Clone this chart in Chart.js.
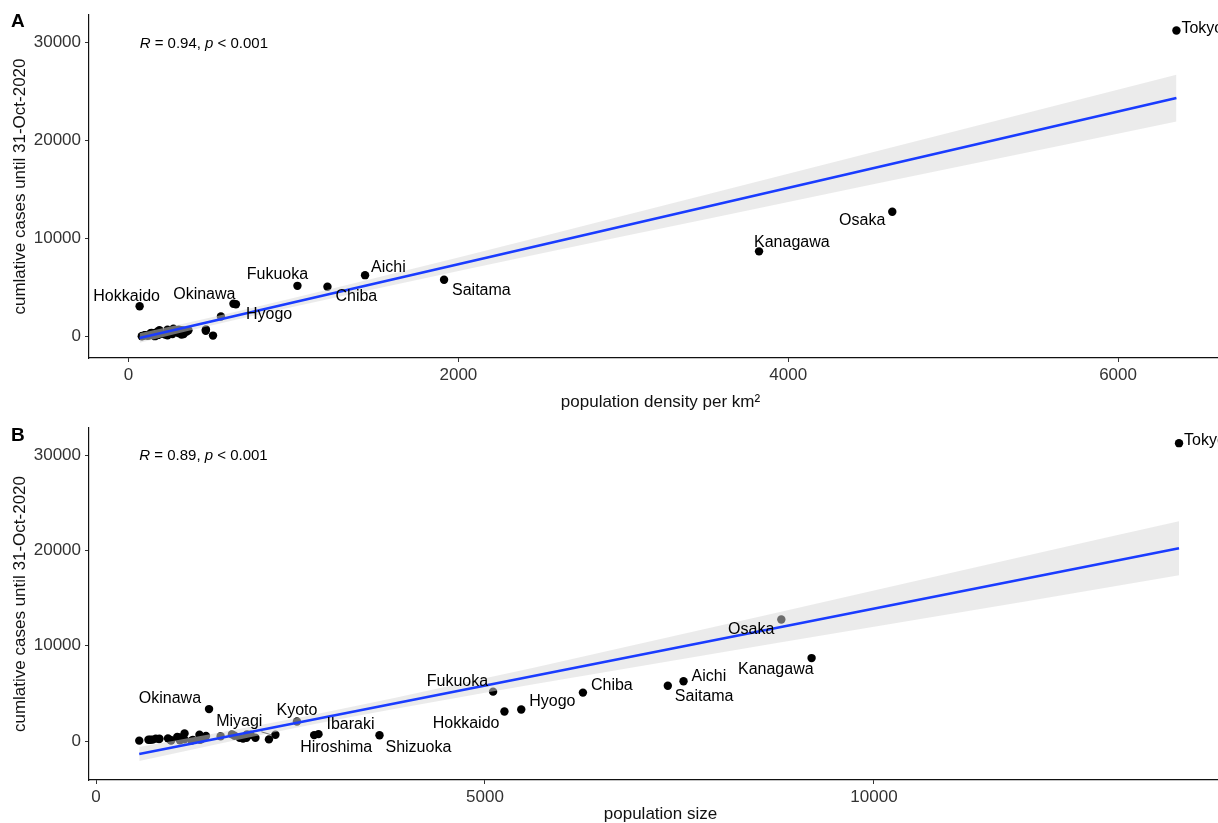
<!DOCTYPE html>
<html>
<head>
<meta charset="utf-8">
<script src="https://cdn.jsdelivr.net/npm/chart.js@4"></script>
<style>
  html, body { margin: 0; padding: 0; background: #fff; overflow: hidden; }
  #wrap { position: relative; width: 1218px; height: 823px; overflow: hidden; }
  canvas { position: absolute; left: 0; }
  #ca { top: 0; }
  #cb { top: 411px; }
</style>
</head>
<body>
<div id="wrap">
  <canvas id="ca" width="1232" height="411"></canvas>
  <canvas id="cb" width="1232" height="412"></canvas>
</div>
<script>
// Prefectures of Japan: density, population (thousands), cumulative COVID-19 cases
const prefectures = ['Hokkaido','Aomori','Iwate','Miyagi','Akita','Yamagata','Fukushima','Ibaraki','Tochigi','Gunma',
  'Saitama','Chiba','Tokyo','Kanagawa','Niigata','Toyama','Ishikawa','Fukui','Yamanashi','Nagano',
  'Gifu','Shizuoka','Aichi','Mie','Shiga','Kyoto','Osaka','Hyogo','Nara','Wakayama',
  'Tottori','Shimane','Okayama','Hiroshima','Yamaguchi','Tokushima','Kagawa','Ehime','Kochi','Fukuoka',
  'Saga','Nagasaki','Kumamoto','Oita','Miyazaki','Kagoshima','Okinawa'];
const densityPerKm2 = [67,129,80,317,83,116,134,469,302,305,
  1913,1206,6354,3823,177,246,272,183,182,151,
  187,468,1434,308,352,560,4631,651,363,197,
  159,100,266,331,222,175,512,236,98,1024,
  334,321,236,179,139,175,636];
const populationK = [5250,1246,1227,2306,966,1078,1846,2860,1934,1942,
  7350,6259,13921,9198,2223,1044,1138,768,811,2049,
  1987,3644,7552,1781,1414,2583,8809,5466,1330,925,
  556,674,1890,2804,1358,728,956,1339,698,5104,
  815,1327,1748,1135,1073,1602,1453];
const casesToOct31 = [3100,120,30,650,60,80,350,720,350,700,
  5800,5080,31250,8700,170,420,800,250,200,350,
  650,600,6270,550,520,2050,12750,3300,650,280,
  40,140,250,620,200,150,100,130,140,5180,
  250,200,700,170,380,500,3350];

const xTicksA = [0, 2000, 4000, 6000];
const xTicksB = [0, 5000, 10000];
const yTicks = [0, 10000, 20000, 30000];

// Linear fit and its 95% confidence band, panel A (density)
const fitA_x = [67, 6354];
const fitA_y = [-147, 24360];
const bandA_x = [67, 650, 2000, 3000, 4000, 5000, 6354];
const bandA_lo = [-622, 1716, 6698, 10233, 13743, 17241, 21971];
const bandA_hi = [328, 2536, 8078, 12339, 16625, 20923, 26749];
// Linear fit and its 95% confidence band, panel B (population)
const fitB_x = [556, 13921];
const fitB_y = [-1364, 20220];
const bandB_x = [556, 2700, 5000, 7500, 10000, 12000, 13921];
const bandB_lo = [-2099, 1606, 5052, 8548, 11984, 14723, 17390];
const bandB_hi = [-629, 2592, 6574, 11154, 15792, 19513, 23050];

const statA = { r: '0.94', p: '0.001' };
const statB = { r: '0.89', p: '0.001' };

const FONT = '"Liberation Sans", Arial, Helvetica, sans-serif';
Chart.defaults.font.family = FONT;

// label placement: pixel offset from the point, and text alignment
const labelsA = [
  { name: 'Tokyo', dx: 5, dy: -2, align: 'left' },
  { name: 'Osaka', dx: -7, dy: 9, align: 'right' },
  { name: 'Kanagawa', dx: -5, dy: -9, align: 'left' },
  { name: 'Saitama', dx: 8, dy: 11, align: 'left' },
  { name: 'Aichi', dx: 6, dy: -8, align: 'left' },
  { name: 'Chiba', dx: 8, dy: 10, align: 'left' },
  { name: 'Fukuoka', dx: -20, dy: -11, align: 'center' },
  { name: 'Hyogo', dx: 10, dy: 10, align: 'left' },
  { name: 'Okinawa', dx: 2, dy: -9, align: 'right' },
  { name: 'Hokkaido', dx: -13, dy: -10, align: 'center' }
];
const labelsB = [
  { name: 'Tokyo', dx: 5, dy: -3, align: 'left' },
  { name: 'Osaka', dx: -7, dy: 10, align: 'right' },
  { name: 'Kanagawa', dx: 2, dy: 12, align: 'right' },
  { name: 'Aichi', dx: 8, dy: -5, align: 'left' },
  { name: 'Saitama', dx: 7, dy: 11, align: 'left' },
  { name: 'Chiba', dx: 8, dy: -7, align: 'left' },
  { name: 'Fukuoka', dx: -5, dy: -10, align: 'right' },
  { name: 'Hyogo', dx: 8, dy: -8, align: 'left' },
  { name: 'Hokkaido', dx: -5, dy: 12, align: 'right' },
  { name: 'Shizuoka', dx: 6, dy: 12, align: 'left' },
  { name: 'Ibaraki', dx: 8, dy: -10, align: 'left' },
  { name: 'Hiroshima', dx: 22, dy: 12, align: 'center' },
  { name: 'Kyoto', dx: 0, dy: -11, align: 'center' },
  { name: 'Miyagi', dx: -13, dy: -13, align: 'right', leader: true },
  { name: 'Okinawa', dx: -8, dy: -10, align: 'right' }
];

function makeLabelPlugin(xs, labels, stat, letter, letterY) {
  return {
    id: 'prefLabels' + letter,
    afterDraw(chart) {
      const { ctx, scales } = chart;
      const sx = scales.x, sy = scales.y;
      ctx.save();
      ctx.fillStyle = '#000';
      ctx.textBaseline = 'middle';
      ctx.font = '16px ' + FONT;
      labels.forEach(l => {
        const i = prefectures.indexOf(l.name);
        const px = sx.getPixelForValue(xs[i]);
        const py = sy.getPixelForValue(casesToOct31[i]);
        ctx.textAlign = l.align;
        ctx.fillText(l.name, px + l.dx, py + l.dy);
        if (l.leader) {
          ctx.strokeStyle = '#555';
          ctx.lineWidth = 0.8;
          ctx.beginPath();
          ctx.moveTo(px - 14, py - 3);
          ctx.lineTo(px - 4, py);
          ctx.stroke();
        }
      });
      // correlation annotation at (min x, max y)
      let ax = sx.getPixelForValue(Math.min(...xs));
      const ay = sy.getPixelForValue(Math.max(...casesToOct31)) + 13;
      ctx.textAlign = 'left';
      const parts = [['R', true], [' = ' + stat.r + ', ', false], ['p', true], [' < ' + stat.p, false]];
      parts.forEach(([t, it]) => {
        ctx.font = (it ? 'italic ' : '') + '15px ' + FONT;
        ctx.fillText(t, ax, ay);
        ax += ctx.measureText(t).width;
      });
      // panel tag
      ctx.font = 'bold 19px ' + FONT;
      ctx.fillText(letter, 11, letterY);
      ctx.restore();
    }
  };
}

function makeChart(canvasId, opt) {
  const pts = opt.xs.map((x, i) => ({ x: x, y: casesToOct31[i] }));
  const lo = opt.bandX.map((x, i) => ({ x: x, y: opt.bandLo[i] }));
  const hi = opt.bandX.map((x, i) => ({ x: x, y: opt.bandHi[i] }));
  const fit = opt.fitX.map((x, i) => ({ x: x, y: opt.fitY[i] }));
  return new Chart(document.getElementById(canvasId), {
    type: 'scatter',
    data: {
      datasets: [
        { type: 'scatter', data: pts, backgroundColor: '#000', borderWidth: 0, pointRadius: 4.2, order: 3 },
        { type: 'line', data: lo, borderWidth: 0, pointRadius: 0, fill: false, cubicInterpolationMode: 'monotone', order: 2 },
        { type: 'line', data: hi, borderWidth: 0, pointRadius: 0, fill: '-1', backgroundColor: 'rgba(215,215,215,0.5)', cubicInterpolationMode: 'monotone', order: 2 },
        { type: 'line', data: fit, borderColor: '#1A3CFF', borderWidth: 2.6, pointRadius: 0, fill: false, order: 1 }
      ]
    },
    options: {
      responsive: false,
      animation: false,
      events: [],
      layout: { autoPadding: false, padding: { top: opt.padTop, left: 0, right: 0, bottom: 0 } },
      plugins: {
        legend: { display: false },
        tooltip: { enabled: false },
        filler: { drawTime: 'beforeDatasetDraw' }
      },
      scales: {
        x: {
          type: 'linear', min: opt.xMin, max: opt.xMax,
          afterBuildTicks: s => { s.ticks = opt.xTicks.map(v => ({ value: v })); },
          afterFit: s => { s.height = opt.xAxisH; },
          grid: { display: true, drawOnChartArea: false, drawTicks: true, tickLength: 4, color: '#333', lineWidth: 1 },
          border: { display: true, color: '#111', width: 1.2 },
          ticks: { color: '#333', font: { size: 17 }, padding: 3, maxRotation: 0, autoSkip: false, callback: v => String(v) },
          title: { display: true, text: opt.xTitle, color: '#111', font: { size: 17, lineHeight: 1.0 }, padding: { top: 0, bottom: 0.5 } }
        },
        y: {
          type: 'linear', min: opt.yMin, max: opt.yMax,
          afterBuildTicks: s => { s.ticks = yTicks.map(v => ({ value: v })); },
          afterFit: s => { s.width = 89; },
          grid: { display: true, drawOnChartArea: false, drawTicks: true, tickLength: 4, color: '#333', lineWidth: 1 },
          border: { display: true, color: '#111', width: 1.2 },
          ticks: { color: '#333', font: { size: 17 }, padding: 4, autoSkip: false, callback: v => String(v) },
          title: { display: true, text: 'cumlative cases until 31-Oct-2020', color: '#111', font: { size: 17, lineHeight: 1.0 }, padding: { top: 11.5, bottom: 0 } }
        }
      }
    },
    plugins: [makeLabelPlugin(opt.xs, opt.labels, opt.stat, opt.letter, opt.letterY)]
  });
}

makeChart('ca', {
  xs: densityPerKm2, xTicks: xTicksA, xMin: -240, xMax: 6691, yMin: -2190, yMax: 32840,
  bandX: bandA_x, bandLo: bandA_lo, bandHi: bandA_hi, fitX: fitA_x, fitY: fitA_y,
  xTitle: 'population density per km²', padTop: 15, xAxisH: 53,
  labels: labelsA, stat: statA, letter: 'A', letterY: 22
});
makeChart('cb', {
  xs: populationK, xTicks: xTicksB, xMin: -90, xMax: 14602, yMin: -4090, yMax: 32840,
  bandX: bandB_x, bandLo: bandB_lo, bandHi: bandB_hi, fitX: fitB_x, fitY: fitB_y,
  xTitle: 'population size', padTop: 17, xAxisH: 43,
  labels: labelsB, stat: statB, letter: 'B', letterY: 25
});
</script>
</body>
</html>
